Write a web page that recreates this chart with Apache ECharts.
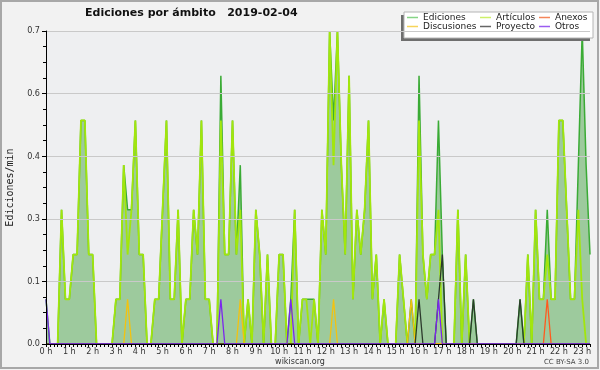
<!DOCTYPE html>
<html><head><meta charset="utf-8">
<script src="https://cdn.jsdelivr.net/npm/echarts@6/dist/echarts.min.js"></script>
<style>html,body{margin:0;padding:0;background:#f2f2f2}#c{width:600px;height:370px}</style>
</head><body><div id="c"></div>
<script>
// 10-minute samples from 0:00 to 23:20 (edits per minute)
const ediciones = [
 0.1,0,0,0,0.3,0.1,0.1,0.2,0.2,0.5,
 0.5,0.2,0.2,0,0,0,0,0,0.1,0.1,
 0.4,0.3,0.3,0.5,0.2,0.2,0,0,0.1,0.1,
 0.3,0.5,0.1,0.1,0.3,0,0.1,0.1,0.3,0.2,
 0.5,0.1,0.1,0,0,0.6,0.2,0.2,0.5,0.2,
 0.4,0,0.1,0,0.3,0.2,0,0.2,0,0,
 0.2,0.2,0,0.1,0.3,0,0.1,0.1,0.1,0.1,
 0,0.3,0.2,0.7,0.5,0.7,0.4,0.2,0.6,0.1,
 0.3,0.2,0.3,0.5,0.1,0.2,0,0.1,0,0,
 0,0.2,0.1,0,0.1,0,0.6,0.2,0.1,0.2,
 0.2,0.5,0.2,0,0,0,0.3,0,0.2,0,
 0.1,0,0,0,0,0,0,0,0,0,
 0,0,0.1,0,0.2,0,0.3,0.1,0.1,0.3,
 0.1,0.1,0.5,0.5,0.3,0.1,0.1,0.4,0.7,0.4,
 0.2
];
const articulos = [
 0,0,0,0,0.3,0.1,0.1,0.2,0.2,0.5,
 0.5,0.2,0.2,0,0,0,0,0,0.1,0.1,
 0.4,0.2,0.3,0.5,0.2,0.2,0,0,0.1,0.1,
 0.3,0.5,0.1,0.1,0.3,0,0.1,0.1,0.3,0.2,
 0.5,0.1,0.1,0,0,0.5,0.2,0.2,0.5,0.2,
 0.3,0,0.1,0,0.3,0.2,0,0.2,0,0,
 0.2,0.2,0,0,0.3,0,0.1,0.1,0,0.1,
 0,0.3,0.2,0.7,0.4,0.7,0.4,0.2,0.6,0.1,
 0.3,0.2,0.3,0.5,0.1,0.2,0,0.1,0,0,
 0,0.2,0.1,0,0,0,0.5,0.2,0.1,0.2,
 0.2,0.3,0,0,0,0,0.3,0,0.2,0,
 0,0,0,0,0,0,0,0,0,0,
 0,0,0,0,0.2,0,0.3,0.1,0.1,0.2,
 0.1,0.1,0.5,0.5,0.3,0.1,0.1,0.3,0.1,0,
 0
];
const anexos = [
 0,0,0,0,0,0,0,0,0,0, 0,0,0,0,0,0,0,0,0,0, 0,0,0,0,0,0,0,0,0,0,
 0,0,0,0,0,0,0,0,0,0, 0,0,0,0,0,0,0,0,0,0, 0,0,0,0,0,0,0,0,0,0,
 0,0,0,0,0,0,0,0,0,0, 0,0,0,0,0,0,0,0,0,0, 0,0,0,0,0,0,0,0,0,0,
 0,0,0,0,0,0,0,0,0,0, 0,0,0,0,0,0,0,0,0,0, 0,0,0,0,0,0,0,0,0,0,
 0,0,0,0,0,0,0,0,0,0.1, 0,0,0,0,0,0,0,0,0,0, 0
];
const discusiones = [
 0,0,0,0,0,0,0,0,0,0, 0,0,0,0,0,0,0,0,0,0, 0,0.1,0,0,0,0,0,0,0,0,
 0,0,0,0,0,0,0,0,0,0, 0,0,0,0,0,0,0,0,0,0, 0.1,0,0,0,0,0,0,0,0,0,
 0,0,0,0,0,0,0,0,0,0, 0,0,0,0,0.1,0,0,0,0,0, 0,0,0,0,0,0,0,0,0,0,
 0,0,0,0,0.1,0,0,0,0,0, 0,0,0,0,0,0,0,0,0,0, 0,0,0,0,0,0,0,0,0,0,
 0,0,0,0,0,0,0,0,0,0, 0,0,0,0,0,0,0,0,0,0, 0
];
const proyecto = [
 0,0,0,0,0,0,0,0,0,0, 0,0,0,0,0,0,0,0,0,0, 0,0,0,0,0,0,0,0,0,0,
 0,0,0,0,0,0,0,0,0,0, 0,0,0,0,0,0,0,0,0,0, 0,0,0,0,0,0,0,0,0,0,
 0,0,0,0,0,0,0,0,0,0, 0,0,0,0,0,0,0,0,0,0, 0,0,0,0,0,0,0,0,0,0,
 0,0,0,0,0,0,0.1,0,0,0, 0,0.1,0.2,0,0,0,0,0,0,0, 0.1,0,0,0,0,0,0,0,0,0,
 0,0,0.1,0,0,0,0,0,0,0, 0,0,0,0,0,0,0,0,0,0, 0
];
const otros = [
 0.1,0,0,0,0,0,0,0,0,0, 0,0,0,0,0,0,0,0,0,0, 0,0,0,0,0,0,0,0,0,0,
 0,0,0,0,0,0,0,0,0,0, 0,0,0,0,0,0.1,0,0,0,0, 0,0,0,0,0,0,0,0,0,0,
 0,0,0,0.1,0,0,0,0,0,0, 0,0,0,0,0,0,0,0,0,0, 0,0,0,0,0,0,0,0,0,0,
 0,0,0,0,0,0,0,0,0,0, 0,0.1,0,0,0,0,0,0,0,0, 0,0,0,0,0,0,0,0,0,0,
 0,0,0,0,0,0,0,0,0,0, 0,0,0,0,0,0,0,0,0,0, 0
];
// time grid (category labels)
const times = [];
for (let i = 0; i < ediciones.length; i++) {
  times.push(Math.floor(i / 6) + ':' + String((i % 6) * 10).padStart(2, '0'));
}
const seriesNames = ['Ediciones','Artículos','Anexos','Discusiones','Proyecto','Otros'];
const seriesColors = ['#3aab35','#a2e60c','#ff5a1e','#f4c20f','#2c3a2c','#7b26ee'];
const legendColors = ['#86d486','#cdf06a','#f5865a','#f7d45a','#666666','#9b5cf0'];
const titleText = 'Ediciones por ámbito   2019-02-04';
const yTicks = { min: 0, max: 0.7, step: 0.14 };

const lab = "'DejaVu Sans Condensed','DejaVu Sans',sans-serif";
const chart = echarts.init(document.getElementById('c'), null, {renderer:'canvas'});
function lineSeries(idx, data, extra) {
  return Object.assign({
    name: seriesNames[idx], type: 'line', data: data, symbol: 'none', showSymbol: false,
    color: seriesColors[idx], lineStyle: {color: seriesColors[idx], width: 1.3}, z: 2 + idx * 0.1,
    animation: false
  }, extra || {});
}
function legendItem(idx) {
  return {name: seriesNames[idx], itemStyle: {color: legendColors[idx]}};
}
const legendCommon = {orient:'vertical', top: 13, padding: 0, itemGap: 0, itemWidth: 11, itemHeight: 1.5,
  icon: 'rect', textStyle:{fontFamily:"'DejaVu Sans',sans-serif", fontSize: 9, color:'#222', padding:[0,0,0,0]}, z: 6};
chart.setOption({
  animation: false,
  backgroundColor: '#f2f2f2',
  title: {text: titleText, left: 85, top: 8, padding: 0,
    textStyle: {fontFamily: "'DejaVu Sans',sans-serif", fontSize: 11, fontWeight: 'bold', color: '#111'}},
  grid: {left: 46, right: 10, top: 31, bottom: 26, show: true, backgroundColor: '#eeeff1', borderWidth: 0,
    containLabel: false, outerBoundsMode: 'none'},
  legend: [
    Object.assign({left: 407, data: [legendItem(0), legendItem(3)]}, legendCommon),
    Object.assign({left: 480, data: [legendItem(1), legendItem(4)]}, legendCommon),
    Object.assign({left: 539, data: [legendItem(2), legendItem(5)]}, legendCommon)
  ],
  xAxis: {
    type: 'category', data: times, boundaryGap: false, z: 10,
    axisLine: {lineStyle: {color: '#000', width: 1}},
    axisTick: {show: true, interval: 0, length: 3, lineStyle: {color: '#000'}},
    axisLabel: {interval: (i) => i % 6 === 0, formatter: (v) => v.split(':')[0] + ' h',
      fontFamily: lab, fontSize: 9, color: '#333', margin: 3},
    splitLine: {show: false}
  },
  yAxis: {
    type: 'value', min: yTicks.min, max: yTicks.max, interval: yTicks.step, z: 10,
    name: 'Ediciones/min', nameLocation: 'middle', nameGap: 31, nameRotate: 90,
    nameTextStyle: {fontFamily: "'DejaVu Sans Mono',monospace", fontSize: 10, color: '#222'},
    axisLine: {show: true, lineStyle: {color: '#000'}},
    axisTick: {show: true, length: 4, lineStyle: {color: '#000'}},
    minorTick: {show: true, splitNumber: 4, length: 3, lineStyle: {color: '#000'}},
    splitLine: {lineStyle: {color: '#c9c9c9'}},
    axisLabel: {formatter: (v) => v.toFixed(1), fontFamily: lab, fontSize: 9, color: '#333', margin: 6}
  },
  series: [
    lineSeries(0, ediciones, {areaStyle: {color: '#9dca9d', opacity: 1}, lineStyle: {color: seriesColors[0], width: 1.5}}),
    lineSeries(1, articulos, {lineStyle: {color: seriesColors[1], width: 1.8}}),
    lineSeries(2, anexos),
    lineSeries(3, discusiones),
    lineSeries(4, proyecto),
    lineSeries(5, otros)
  ],
  graphic: [
    {type: 'rect', z: 3, shape: {x: 401, y: 15, width: 189, height: 26}, style: {fill: '#6e6e6e'}},
    {type: 'rect', z: 3, shape: {x: 404, y: 12, width: 189, height: 26}, style: {fill: '#ffffff', stroke: '#b4b4b4', lineWidth: 1}},
    {type: 'text', z: 3, x: 300, y: 362, style: {text: 'wikiscan.org', fill: '#333', font: "8px 'DejaVu Sans',sans-serif", textAlign: 'center', textVerticalAlign: 'middle'}},
    {type: 'text', z: 3, x: 589, y: 362, style: {text: 'CC BY-SA 3.0', fill: '#444', font: "7px 'DejaVu Sans',sans-serif", textAlign: 'right', textVerticalAlign: 'middle'}},
    {type: 'rect', z: 20, shape: {x: 1, y: 1, width: 597, height: 367}, style: {fill: 'none', stroke: '#a8a8a8', lineWidth: 2}}
  ]
});
</script></body></html>
